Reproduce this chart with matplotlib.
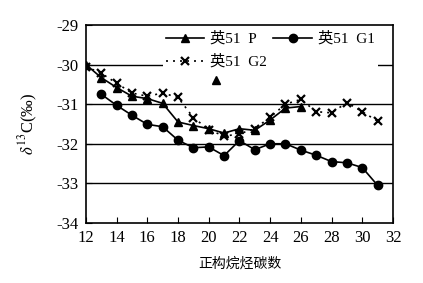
import numpy as np
import matplotlib.pyplot as plt

# 碳数与 δ13C 数据
carbon_p = [12, 13, 14, 15, 16, 17, 18, 19, 20, 21, 22, 23, 24, 25, 26]
p_vals = [-30.0, -30.33, -30.58, -30.8, -30.86, -30.98, -31.45, -31.54, -31.62, -31.73, -31.62, -31.66, -31.4, -31.1, -31.06]
p_extra_x = [20.5]
p_extra_y = [-30.4]

carbon_g1 = [13, 14, 15, 16, 17, 18, 19, 20, 21, 22, 23, 24, 25, 26, 27, 28, 29, 30, 31]
g1_vals = [-30.75, -31.03, -31.28, -31.51, -31.57, -31.91, -32.1, -32.08, -32.3, -31.92, -32.15, -32.0, -32.0, -32.16, -32.29, -32.45, -32.48, -32.6, -33.05]

carbon_g2 = [12, 13, 14, 15, 16, 17, 18, 19, 20, 21, 22, 23, 24, 25, 26, 27, 28, 29, 30, 31]
g2_vals = [-30.05, -30.22, -30.47, -30.72, -30.8, -30.72, -30.83, -31.34, -31.64, -31.81, -31.75, -31.62, -31.33, -31.0, -30.88, -31.19, -31.22, -30.96, -31.19, -31.43]

fuente = ['Liberation Serif', 'Noto Sans CJK SC']
plt.rcParams['font.family'] = fuente
plt.rcParams['mathtext.fontset'] = 'stix'

fig = plt.figure(figsize=(4.23, 2.83), dpi=100)
ax = fig.add_axes([0.203, 0.212, 0.726, 0.700])

for y in [-30, -31, -32, -33]:
    ax.axhline(y, color='black', lw=1.0, zorder=1)

ax.plot(carbon_p, p_vals, color='black', lw=1.2, marker='^', ms=6, label='英51  P', zorder=3)
ax.plot(carbon_g2, g2_vals, color='black', lw=1.2, ls=(0, (1.2, 3)), marker='x', ms=5.5, mew=1.6, label='英51  G2', zorder=3)
ax.plot(carbon_g1, g1_vals, color='black', lw=1.2, marker='o', ms=6, label='英51  G1', zorder=3)
ax.plot(p_extra_x, p_extra_y, color='black', ls='none', marker='^', ms=6, zorder=3)

ax.set_xlim(12, 32)
ax.set_ylim(-34, -29)
ax.set_xticks(np.arange(12, 33, 2))
ax.set_yticks([-29, -30, -31, -32, -33, -34])
ax.set_yticklabels(['-29', '-30', '-31', '-32', '-33', '-34'])
ax.tick_params(direction='in', labelsize=12, length=4, top=False, right=False, pad=5)
for s in ax.spines.values():
    s.set_linewidth(1.2)

ax.set_xlabel('正构烷烃碳数', fontsize=10, labelpad=8)
ax.set_ylabel(r'$\delta^{13}$C(‰)', fontsize=12, labelpad=12)

leg = ax.legend(ncol=2, loc='upper right', bbox_to_anchor=(0.975, 1.02), frameon=True,
                fontsize=11, handlelength=2.5, columnspacing=0.4, handletextpad=0.4,
                borderpad=0.2, labelspacing=0.55)
leg.get_frame().set_edgecolor('none')
leg.get_frame().set_facecolor('white')
leg.get_frame().set_alpha(1)

fig.savefig('out.png', dpi=100)
